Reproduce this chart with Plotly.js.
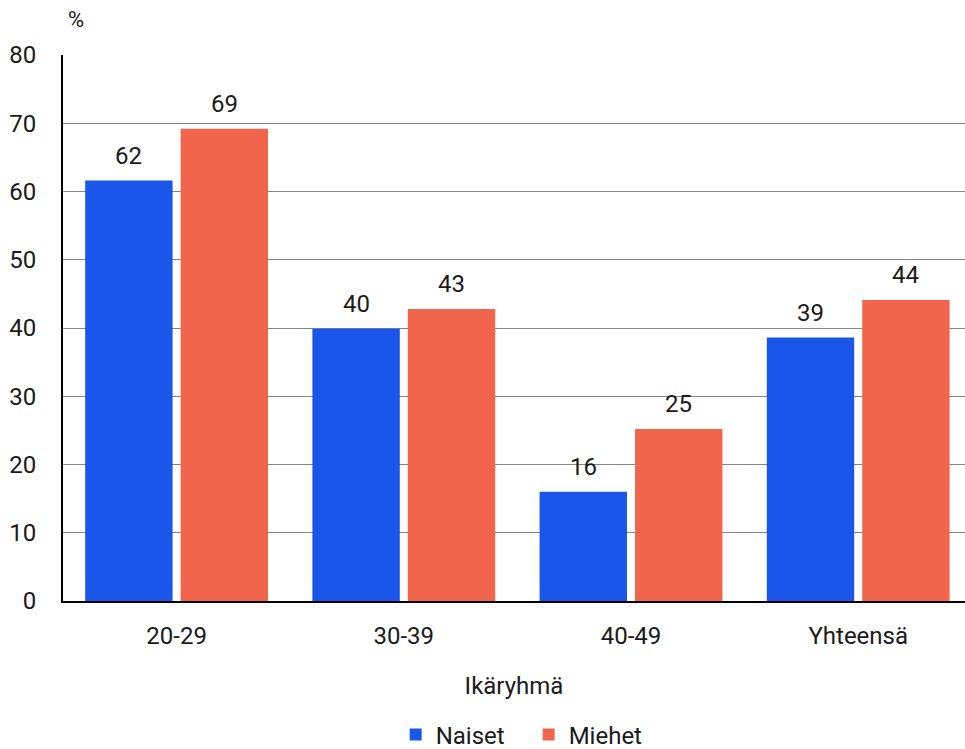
<!DOCTYPE html>
<html><head><meta charset="utf-8">
<script src="https://cdn.plot.ly/plotly-3.0.1.min.js"></script>
<style>body{margin:0;background:#fff}#c{width:965px;height:749px}</style>
</head><body><div id="c"></div>
<script>
const categories = ['20-29', '30-39', '40-49', 'Yhteensä'];
const naiset = [61.6, 39.9, 16.0, 38.6];
const miehet = [69.2, 42.8, 25.2, 44.1];
const seriesNames = ['Naiset', 'Miehet'];
const colors = ['#1b56ea', '#f2654d'];

const font = {family: 'Roboto, sans-serif', size: 24, color: '#1a1a1a'};
const mk = (name, y, color) => ({
  type: 'bar', name: name, x: categories, y: y,
  marker: {color: color, line: {width: 0}},
  hoverinfo: 'none'
});
const data = [mk(seriesNames[0], naiset, colors[0]), mk(seriesNames[1], miehet, colors[1])];

const annotations = [];
[naiset, miehet].forEach((vals, s) => {
  vals.forEach((v, i) => {
    annotations.push({
      x: categories[i], y: v, xref: 'x', yref: 'y',
      xshift: s === 0 ? -47.75 : 47.75, yshift: 9,
      text: String(Math.round(v)), showarrow: false,
      xanchor: 'center', yanchor: 'bottom',
      font: {size: 24, color: '#1a1a1a'}
    });
  });
});
annotations.push({text: '%', xref: 'paper', yref: 'paper', x: 0, y: 1, xshift: 13, yshift: 36,
  showarrow: false, xanchor: 'center', yanchor: 'middle', font: {size: 22}});

const layout = {
  width: 965, height: 749,
  margin: {l: 63, r: 0, t: 55, b: 148},
  font: font,
  paper_bgcolor: '#fff', plot_bgcolor: '#fff',
  barmode: 'group', bargap: 0.16, bargroupgap: 0.084,
  showlegend: true,
  legend: {orientation: 'h', x: 0.41, xanchor: 'left', xref: 'container', yref: 'container', y: 0.0187, yanchor: 'middle',
    font: {size: 24}, traceorder: 'normal', entrywidth: 88, entrywidthmode: 'pixels', itemwidth: 30},
  xaxis: {
    range: [-0.5, 3.47],
    showline: true, linecolor: '#000', linewidth: 2, ticks: '', showgrid: false,
    tickfont: {size: 24}, ticklabelstandoff: 12,
    title: {text: 'Ikäryhmä', font: {size: 24}, standoff: 28}
  },
  yaxis: {
    range: [0, 80], dtick: 10, showline: true, linecolor: '#000', linewidth: 2,
    gridcolor: '#858585', gridwidth: 1, zeroline: false, ticks: '',
    tickfont: {size: 24}, ticklabelstandoff: 20
  },
  annotations: annotations
};
Plotly.newPlot('c', data, layout, {displayModeBar: false, staticPlot: true});
</script></body></html>
